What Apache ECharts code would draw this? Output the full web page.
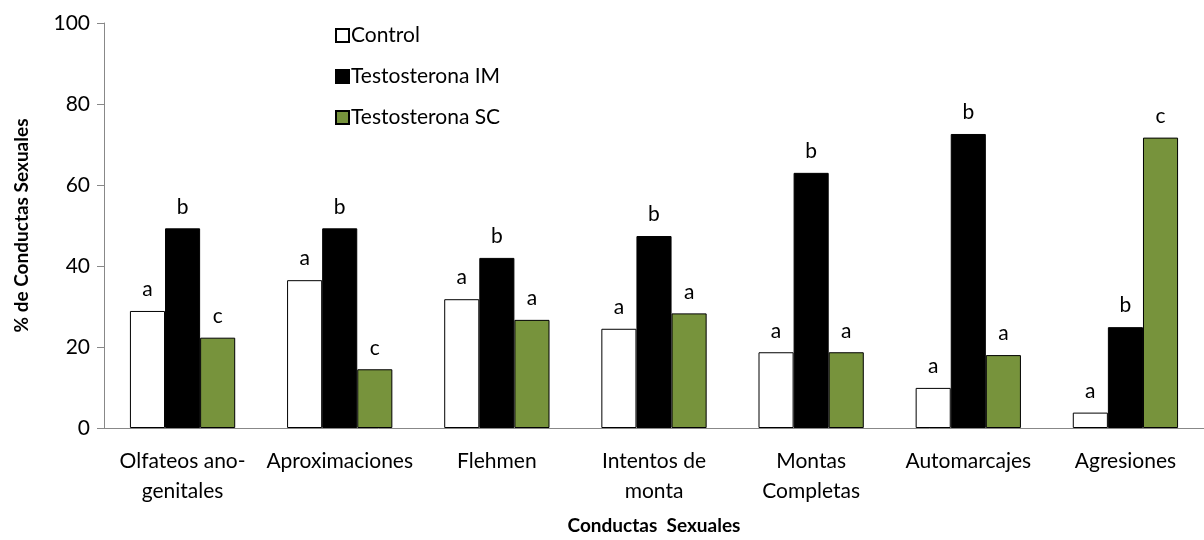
<!DOCTYPE html>
<html lang="es">
<head>
  <meta charset="UTF-8">
  <title>Conductas Sexuales</title>
  <script src="https://cdn.jsdelivr.net/npm/echarts@6/dist/echarts.min.js"></script>
  <style>
    html, body { margin: 0; padding: 0; background: #fff; }
    #chart { width: 1204px; height: 540px; }
  </style>
</head>
<body>
  <div id="chart"></div>
  <script>
    var categories = ['Olfateos ano-\ngenitales', 'Aproximaciones', 'Flehmen', 'Intentos de\nmonta',
                      'Montas\nCompletas', 'Automarcajes', 'Agresiones'];
    var control = [28.9, 36.5, 31.8, 24.5, 18.7, 9.9, 3.8];
    var testIM = [49.3, 49.3, 42.0, 47.4, 63.0, 72.6, 24.9];
    var testSC = [22.3, 14.5, 26.7, 28.3, 18.7, 18.0, 71.7];
    var lettersControl = ['a', 'a', 'a', 'a', 'a', 'a', 'a'];
    var lettersIM = ['b', 'b', 'b', 'b', 'b', 'b', 'b'];
    var lettersSC = ['c', 'c', 'a', 'a', 'a', 'a', 'c'];

    var font = 'Lato, "Liberation Sans", sans-serif';
    var chart = echarts.init(document.getElementById('chart'));

    function mkSeries(name, data, letters, color) {
      return {
        name: name,
        type: 'bar',
        data: data,
        barGap: '0%',
        barCategoryGap: '33%',
        itemStyle: { color: color, borderColor: '#000', borderWidth: 1 },
        label: {
          show: true,
          position: 'top',
          distance: 11,
          color: '#000',
          fontFamily: font,
          fontSize: 21,
          formatter: function (p) { return letters[p.dataIndex]; }
        }
      };
    }

    chart.setOption({
      animation: false,
      grid: { left: 104, top: 23, width: 1102, bottom: 106, containLabel: false },
      legend: {
        orient: 'vertical',
        left: 330,
        top: 20,
        itemGap: 20,
        itemWidth: 13,
        itemHeight: 13,
        icon: 'rect',
        textStyle: { fontFamily: font, fontSize: 21, color: '#000', padding: [0, 0, 0, -3] },
        data: ['Control', 'Testosterona IM', 'Testosterona SC']
      },
      xAxis: {
        type: 'category',
        data: categories,
        name: 'Conductas  Sexuales',
        nameLocation: 'middle',
        nameGap: 88,
        nameTextStyle: { fontFamily: font, fontSize: 19, fontWeight: 'bold', color: '#000' },
        axisLine: { lineStyle: { color: '#888' } },
        axisTick: { length: 7, lineStyle: { color: '#888' } },
        axisLabel: { fontFamily: font, fontSize: 21, color: '#000', margin: 18, lineHeight: 30, interval: 0 }
      },
      yAxis: {
        type: 'value',
        min: 0,
        max: 100,
        interval: 20,
        name: '% de Conductas Sexuales',
        nameLocation: 'middle',
        nameGap: 73,
        nameTextStyle: { fontFamily: font, fontSize: 19, fontWeight: 'bold', color: '#000' },
        axisLine: { show: true, lineStyle: { color: '#888' } },
        axisTick: { show: true, length: 7, lineStyle: { color: '#888' } },
        splitLine: { show: false },
        axisLabel: { fontFamily: font, fontSize: 21, color: '#000', margin: 14 }
      },
      series: [
        mkSeries('Control', control, lettersControl, '#ffffff'),
        mkSeries('Testosterona IM', testIM, lettersIM, '#000000'),
        mkSeries('Testosterona SC', testSC, lettersSC, '#77933c')
      ]
    });
  </script>
</body>
</html>
